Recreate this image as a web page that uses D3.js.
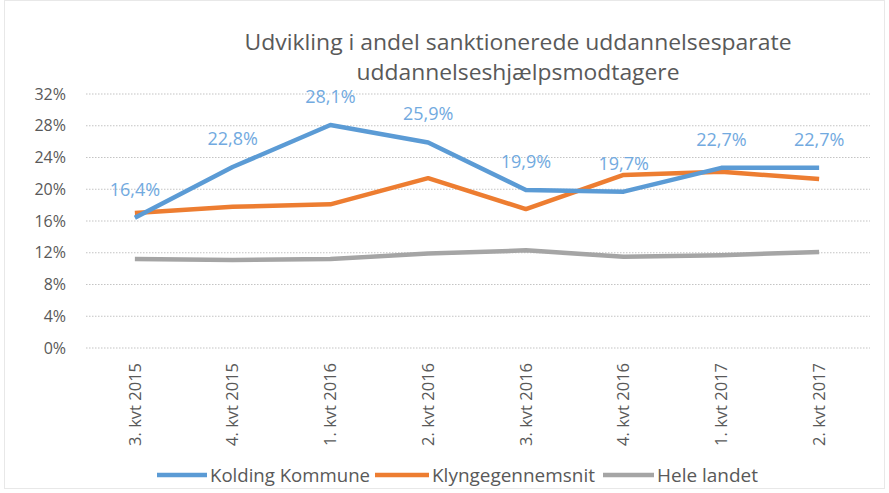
<!DOCTYPE html>
<html><head><meta charset="utf-8">
<script src="https://cdn.jsdelivr.net/npm/d3@7"></script>
<style>body{margin:0;background:#fff;font-family:"Open Sans","DejaVu Sans",sans-serif;}</style>
</head><body><svg id="c" width="889" height="493"></svg>
<script>
const categories = ["3. kvt 2015","4. kvt 2015","1. kvt 2016","2. kvt 2016","3. kvt 2016","4. kvt 2016","1. kvt 2017","2. kvt 2017"];
const kolding = [16.4, 22.8, 28.1, 25.9, 19.9, 19.7, 22.7, 22.7];
const klynge = [17.0, 17.8, 18.1, 21.4, 17.5, 21.8, 22.2, 21.3];
const hele = [11.2, 11.1, 11.2, 11.9, 12.3, 11.5, 11.7, 12.1];
const yTicks = [0,4,8,12,16,20,24,28,32];
const seriesNames = ["Kolding Kommune","Klyngegennemsnit","Hele landet"];
const colors = ["#5B9BD5","#ED7D31","#A5A5A5"];
const title = ["Udvikling i andel sanktionerede uddannelsesparate","uddannelseshjælpsmodtagere"];

const svg = d3.select("#c");
const FONT = "Open Sans, sans-serif";
svg.append("rect").attr("x",4.5).attr("y",0.5).attr("width",880).attr("height",488)
  .attr("fill","none").attr("stroke","#d0d0d0").attr("stroke-dasharray","1,1");

const x = d3.scaleBand().domain(categories).range([86,868]);
const y = d3.scaleLinear().domain([0,32]).range([348,94]);

// gridlines
svg.append("g").selectAll("line").data(yTicks).join("line")
  .attr("x1",86).attr("x2",870).attr("y1",d=>y(d)).attr("y2",d=>y(d))
  .attr("stroke","#c4c4c4").attr("stroke-width",1.2).attr("stroke-dasharray","1.5,1.5");

// y axis
const ya = svg.append("g").attr("transform","translate(66,0)")
  .call(d3.axisLeft(y).tickValues(yTicks).tickFormat(d=>d+"%").tickSize(0).tickPadding(0));
ya.select(".domain").remove();
ya.selectAll("text").attr("font-size",16).attr("fill","#595959").attr("font-family",FONT);

// x axis labels
const xa = svg.append("g").attr("transform","translate(0,363)")
  .call(d3.axisBottom(x).tickSize(0).tickPadding(0));
xa.select(".domain").remove();
xa.selectAll("text").attr("font-size",16.5).attr("fill","#595959").attr("font-family",FONT)
  .attr("transform","rotate(-90)").attr("text-anchor","end").attr("x",0).attr("y",0).attr("dy","0.35em");

const line = d3.line().x((d,i)=>x(categories[i])+x.bandwidth()/2).y(d=>y(d));
[hele, klynge, kolding].forEach((s,k)=>{
  const ci = 2-k;
  svg.append("path").datum(s).attr("d",line).attr("fill","none")
    .attr("stroke",colors[ci]).attr("stroke-width",4.5).attr("stroke-linejoin","round");
});

// data labels
svg.append("g").selectAll("text").data(kolding).join("text")
  .attr("x",(d,i)=>x(categories[i])+x.bandwidth()/2)
  .attr("y",(d,i)=>y(d)-22)
  .attr("text-anchor","middle").attr("font-size",18).attr("fill","#72aae0").attr("font-family",FONT)
  .text(d=>d.toFixed(1).replace(".",",")+"%");

// title
const tw = [547, 323];
svg.append("g").selectAll("text").data(title).join("text")
  .attr("x",518).attr("y",(d,i)=>50+i*30).attr("text-anchor","middle")
  .attr("font-size",22).attr("fill","#595959").attr("font-family",FONT)
  .attr("textLength",(d,i)=>tw[i]).attr("lengthAdjust","spacingAndGlyphs").text(d=>d);

// legend
const legSw = [157,375,603];
const legTx = [210,432,657];
const legW = [160,163,101];
const lg = svg.append("g");
seriesNames.forEach((n,i)=>{
  lg.append("line").attr("x1",legSw[i]).attr("x2",legTx[i]-3).attr("y1",475).attr("y2",475)
    .attr("stroke",colors[i]).attr("stroke-width",4.5);
  lg.append("text").attr("x",legTx[i]).attr("y",482).attr("font-size",19).attr("fill","#595959")
    .attr("font-family",FONT).attr("textLength",legW[i]).attr("lengthAdjust","spacingAndGlyphs").text(n);
});
</script></body></html>
